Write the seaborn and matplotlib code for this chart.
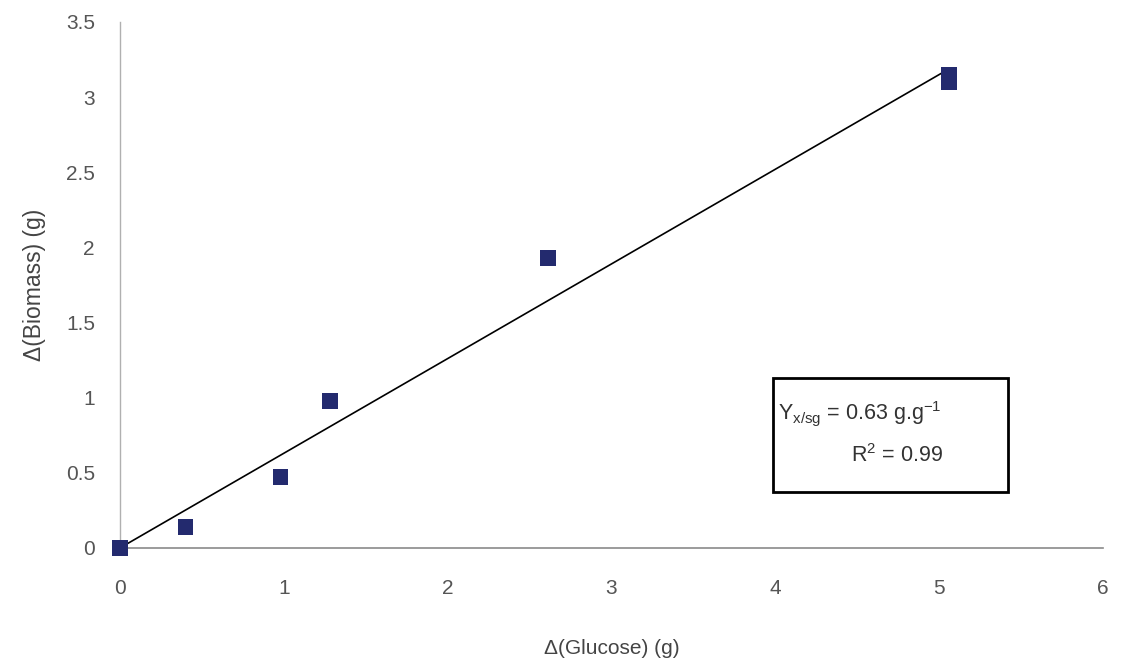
import matplotlib
matplotlib.use("Agg")
import numpy as np
import pandas as pd
import seaborn as sns
from matplotlib import pyplot as plt
from matplotlib.patches import Rectangle

# values
glucose = [0.0, 0.40, 0.98, 1.28, 2.61, 5.06, 5.06]
biomass = [0.0, 0.14, 0.47, 0.98, 1.93, 3.10, 3.15]
yield_coef = 0.63
x_ticks = [0, 1, 2, 3, 4, 5, 6]
y_ticks = [0, 0.5, 1, 1.5, 2, 2.5, 3, 3.5]
y_tick_labels = ["0", "0.5", "1", "1.5", "2", "2.5", "3", "3.5"]

sns.set_style("white")
plt.rcParams["font.family"] = ["Liberation Sans", "DejaVu Sans"]
plt.rcParams["mathtext.default"] = "regular"

data = pd.DataFrame({"glucose": glucose, "biomass": biomass})
fit = pd.DataFrame({"glucose": [0.0, max(glucose)]})
fit["biomass"] = yield_coef * fit["glucose"]

fig = plt.figure(figsize=(11.21, 6.65), dpi=100)
ax = fig.add_axes([0.107, 0.176, 0.877, 0.791])

sns.lineplot(fit, x="glucose", y="biomass", color="black", linewidth=1.2, ax=ax)
sns.scatterplot(data, x="glucose", y="biomass", marker="s", s=130, color="#232a6e",
                edgecolor="none", ax=ax, clip_on=False, zorder=3)

ax.set_xlim(0, 6)
ax.set_ylim(0, 3.5)
ax.set_xticks(x_ticks)
ax.set_yticks(y_ticks)
ax.set_xticklabels([str(t) for t in x_ticks])
ax.set_yticklabels(y_tick_labels)

for side in ["top", "right"]:
    ax.spines[side].set_visible(False)
ax.spines["bottom"].set_color("#8a8a8a")
ax.spines["left"].set_color("#b0b0b0")
ax.spines["bottom"].set_linewidth(1.2)
ax.spines["left"].set_linewidth(1.0)

ax.tick_params(axis="x", direction="in", length=7, color="#777777", labelsize=15,
               labelcolor="#555555", pad=22)
ax.tick_params(axis="y", direction="in", length=7, color="#777777", labelsize=15,
               labelcolor="#555555", pad=18)

ax.set_xlabel("Δ(Glucose) (g)", fontsize=15, color="#444444", labelpad=30)
ax.set_ylabel("Δ(Biomass) (g)", fontsize=16.5, color="#444444", labelpad=14)

# annotation box
ax.add_patch(Rectangle((0.664, 0.106), 0.239, 0.217, transform=ax.transAxes,
                       fill=False, edgecolor="black", linewidth=2))
ax.text(0.669, 0.255, r"Y$_{x/sg}$ = 0.63 g.g$^{-1}$", transform=ax.transAxes,
        fontsize=15.5, color="#333333", ha="left", va="center")
ax.text(0.790, 0.175, r"R$^{2}$ = 0.99", transform=ax.transAxes,
        fontsize=15.5, color="#333333", ha="center", va="center")

plt.savefig("out.png", dpi=100)
plt.close()
